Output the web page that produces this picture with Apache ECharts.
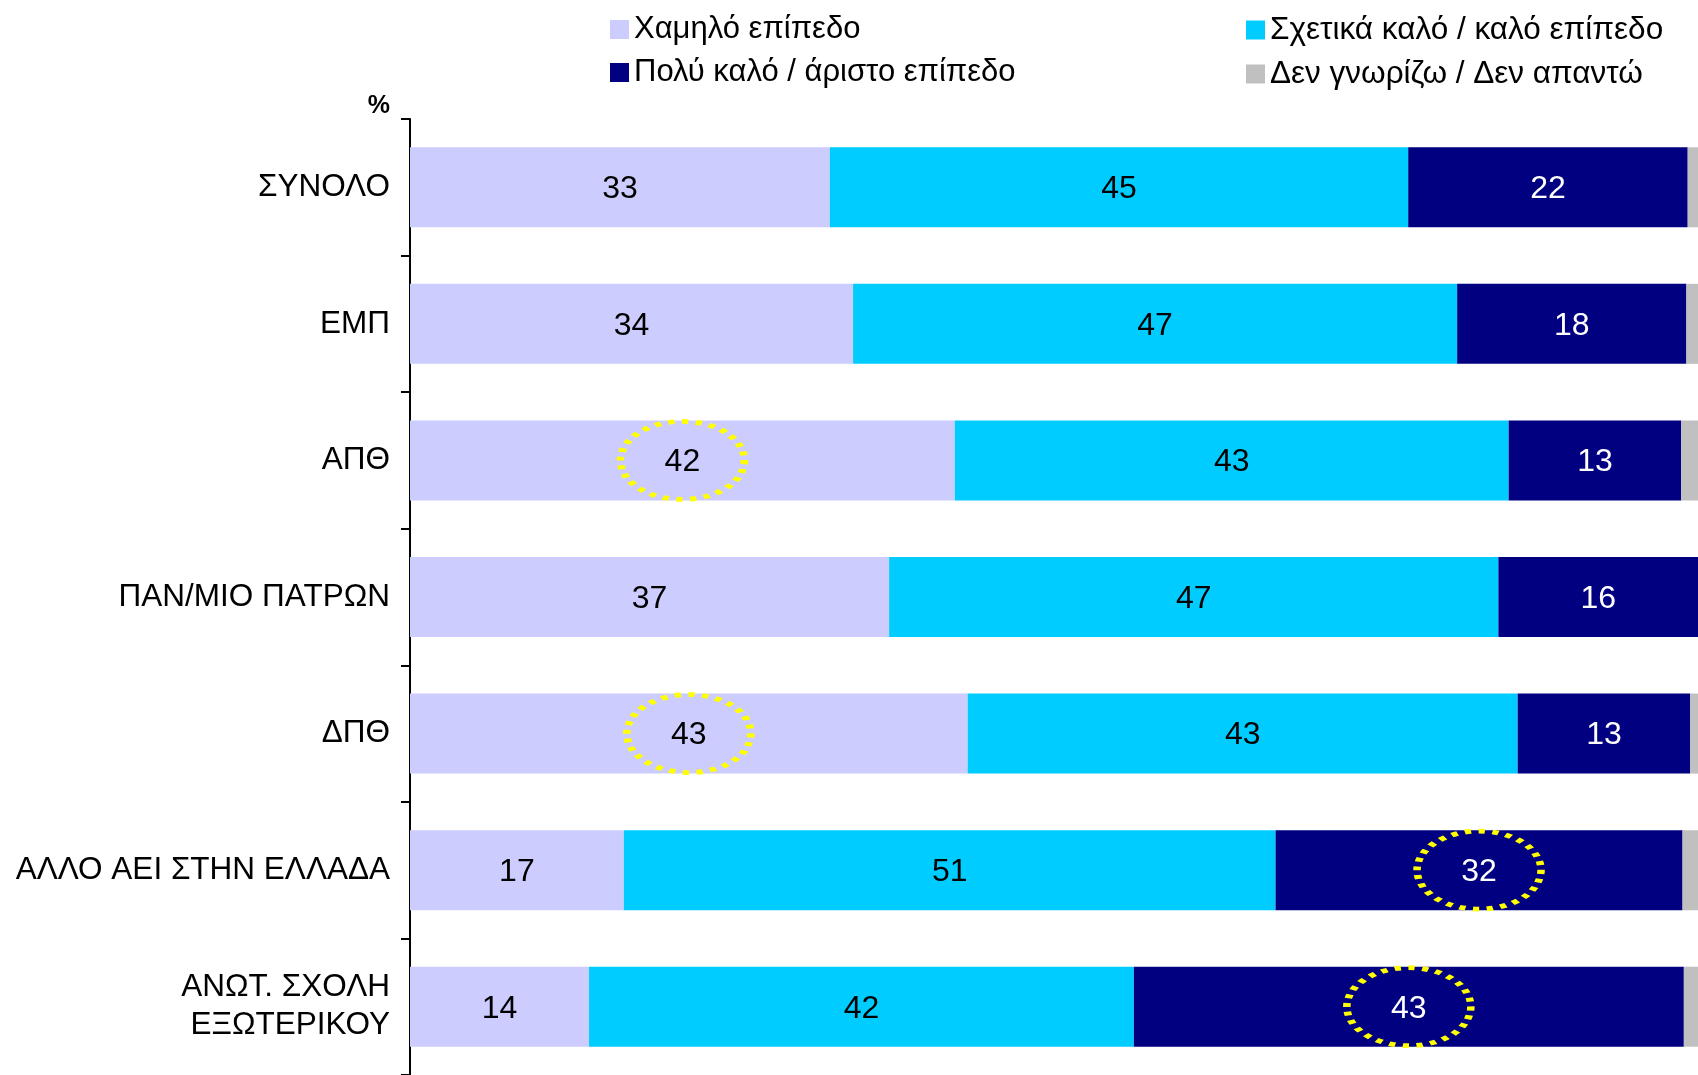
<!DOCTYPE html>
<html>
<head>
<meta charset="utf-8">
<script src="https://cdn.jsdelivr.net/npm/echarts@6/dist/echarts.min.js"></script>
<style>
html,body{margin:0;padding:0;background:#fff;}
#chart{width:1698px;height:1075px;}
</style>
</head>
<body>
<div id="chart"></div>
<script>
const categories = ['ΣΥΝΟΛΟ','ΕΜΠ','ΑΠΘ','ΠΑΝ/ΜΙΟ ΠΑΤΡΩΝ','ΔΠΘ','ΑΛΛΟ ΑΕΙ ΣΤΗΝ ΕΛΛΑΔΑ','ΑΝΩΤ. ΣΧΟΛΗ\nΕΞΩΤΕΡΙΚΟΥ'];
const seriesNames = ['Χαμηλό επίπεδο','Σχετικά καλό / καλό επίπεδο','Πολύ καλό / άριστο επίπεδο','Δεν γνωρίζω / Δεν απαντώ'];
const low      = [32.6, 34.4, 42.3, 37.2, 43.3, 16.6, 13.9];
const good     = [44.9, 46.9, 43.0, 47.3, 42.7, 50.6, 42.3];
const veryGood = [21.7, 17.8, 13.4, 15.5, 13.4, 31.6, 42.7];
const dontKnow = [0.8, 0.9, 1.3, 0.0, 0.6, 1.2, 1.1];
// highlighted values: [category index, series index]
const highlighted = [[2,0],[4,0],[5,2],[6,2]];

const colors = ['#CCCCFF','#00CCFF','#000080','#C0C0C0'];
const labelColors = ['#000','#000','#fff','#000'];
const allVals = [low, good, veryGood, dontKnow];
const FONT = '"Liberation Sans", Arial, sans-serif';

const series = allVals.map((vals, si) => ({
  name: seriesNames[si],
  type: 'bar',
  stack: 'total',
  barWidth: 80,
  data: vals,
  itemStyle: { color: colors[si] },
  label: {
    show: si < 3,
    position: 'inside',
    offset: [0, 2],
    color: labelColors[si],
    fontFamily: FONT,
    fontSize: 32,
    formatter: p => String(Math.round(p.value))
  }
}));

// dotted ellipses around highlighted labels (on the base series of the stack)
series[0].markPoint = {
  symbol: 'circle',
  symbolSize: [124, 78],
  silent: true,
  label: { show: false },
  itemStyle: { color: 'rgba(0,0,0,0)', borderColor: '#FFFF00', borderWidth: 6, borderType: [5, 6] },
  data: highlighted.map(([ci, si]) => {
    let base = 0;
    for (let k = 0; k < si; k++) base += allVals[k][ci];
    return { coord: [base + allVals[si][ci] / 2, categories[ci]] };
  })
};

const chart = echarts.init(document.getElementById('chart'), null, { renderer: 'canvas' });
chart.setOption({
  animation: false,
  backgroundColor: '#fff',
  textStyle: { fontFamily: FONT },
  legend: [
    {
      data: [seriesNames[0], seriesNames[2]],
      orient: 'vertical', left: 605, top: 9,
      itemWidth: 19, itemHeight: 19, itemGap: 12,
      textStyle: { fontFamily: FONT, fontSize: 31, color: '#000' },
      icon: 'rect', selectedMode: false
    },
    {
      data: [seriesNames[1], seriesNames[3]],
      orient: 'vertical', left: 1241, top: 9,
      itemWidth: 19, itemHeight: 19, itemGap: 12,
      textStyle: { fontFamily: FONT, fontSize: 31.5, color: '#000' },
      icon: 'rect', selectedMode: false
    }
  ],
  grid: { left: 410, right: 0, top: 119, height: 959 },
  xAxis: { type: 'value', min: 0, max: 100, show: false },
  yAxis: {
    type: 'category',
    inverse: true,
    data: categories,
    name: '%',
    nameLocation: 'start',
    nameGap: 0,
    nameTextStyle: { fontFamily: FONT, fontWeight: 'bold', fontSize: 25, color: '#000', align: 'right', padding: [0, 20, 0, 0] },
    axisLine: { show: true, lineStyle: { color: '#000', width: 2 } },
    axisTick: { show: true, length: 9, lineStyle: { color: '#000', width: 2 } },
    axisLabel: { fontFamily: FONT, fontSize: 31.5, color: '#000', margin: 20, lineHeight: 38, align: 'right' },
    splitLine: { show: false }
  },
  series: series
});
</script>
</body>
</html>
